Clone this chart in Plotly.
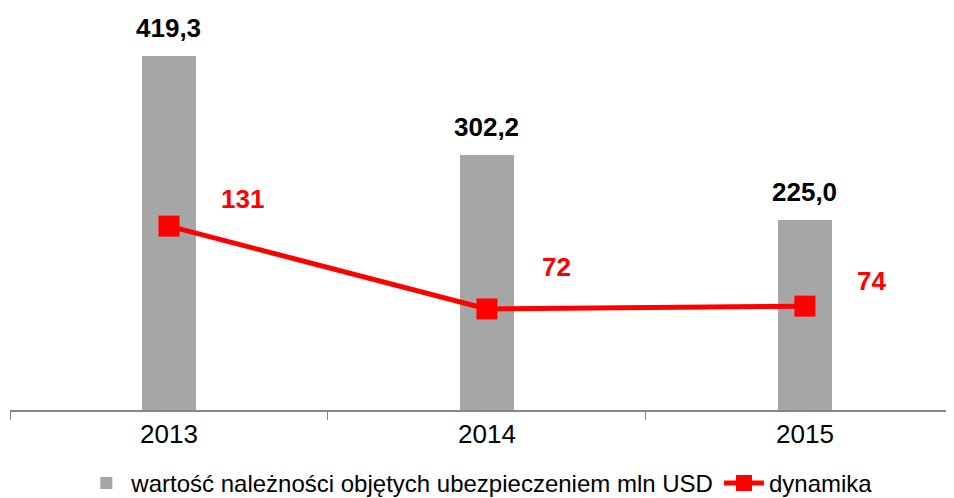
import plotly.graph_objects as go

lata = ['2013', '2014', '2015']
wartosc = [419.3, 302.2, 225.0]
wartosc_etykiety = ['419,3', '302,2', '225,0']
dynamika = [131, 72, 74]

# przesunięcia etykiet dynamiki względem znaczników (px)
dyn_dx = [74, 70, 67]
dyn_dy = [27, 42, 25]

FONT = 'Liberation Sans, Arial, sans-serif'

fig = go.Figure()

fig.add_trace(go.Bar(x=lata,
                     y=wartosc,
                     name='wartość należności objętych ubezpieczeniem mln USD',
                     marker=dict(color='#A6A6A6', line=dict(width=0)),
                     width=0.17))

fig.add_trace(go.Scatter(x=lata,
                         y=dynamika,
                         yaxis='y2',
                         mode='lines+markers',
                         name='dynamika',
                         line={'color': '#FF0000', 'width': 5},
                         marker=dict(symbol='square', size=21, color='#FF0000')))

for i, (w, txt) in enumerate(zip(wartosc, wartosc_etykiety)):
    fig.add_annotation(x=i, y=w, xref='x', yref='y', text='<b>' + txt + '</b>',
                       showarrow=False, yanchor='middle', yshift=28,
                       font=dict(family=FONT, size=26, color='black'))
for i, (d, dx, dy) in enumerate(zip(dynamika, dyn_dx, dyn_dy)):
    fig.add_annotation(x=i, y=d, xref='x', yref='y2', text='<b>' + str(d) + '</b>',
                       showarrow=False, xshift=dx, yshift=dy,
                       font=dict(family=FONT, size=26, color='#FF0000'))

hidden = dict(showgrid=False, zeroline=False, showline=False,
              showticklabels=False, ticks='')

# strona dodaje 8px marginesu body, więc wszystko jest przesunięte o 8px
fig.update_layout(
    width=954, height=498,
    margin=dict(l=2, r=0, t=0, b=95),
    paper_bgcolor='white',
    plot_bgcolor='white',
    font=dict(family=FONT, color='black'),
    xaxis=dict(type='category', range=[-0.5, 2.494],
               showline=True, linecolor='#868686', linewidth=2,
               ticks='outside', tickson='boundaries', ticklen=8,
               tickcolor='#868686', tickwidth=1,
               tickfont=dict(size=26, color='black'),
               showgrid=False, zeroline=False),
    yaxis=dict(range=[0, 476.5], **hidden),
    yaxis2=dict(range=[0, 286.4], overlaying='y', side='right', **hidden),
    legend=dict(orientation='h', x=0.493, xanchor='center', y=-0.184, yanchor='middle',
                font=dict(size=24, color='black'), itemwidth=40,
                bgcolor='rgba(0,0,0,0)'),
    bargap=0,
)

fig.write_html("out.html")
